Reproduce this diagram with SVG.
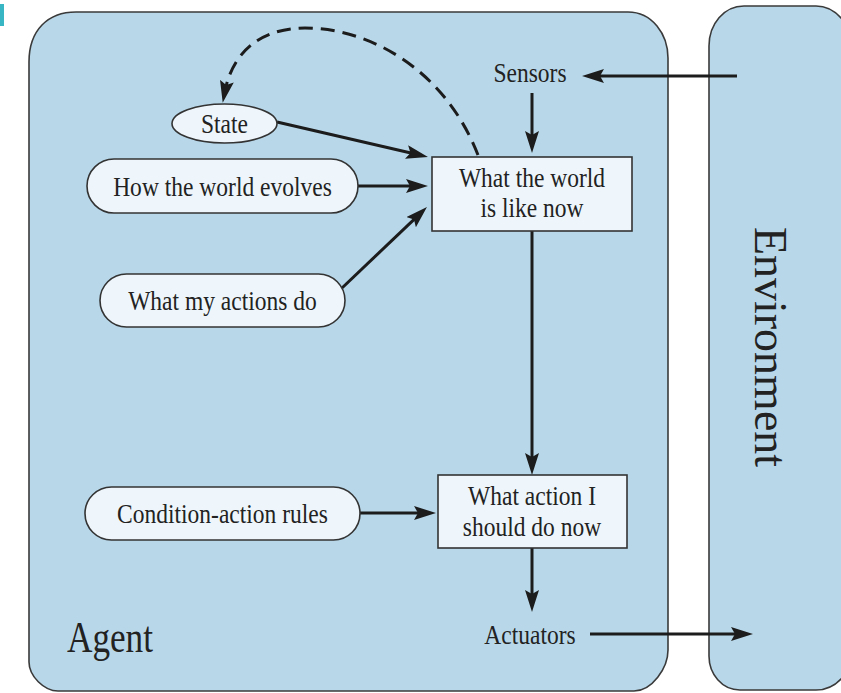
<svg xmlns="http://www.w3.org/2000/svg" width="841" height="693" viewBox="0 0 841 693">
  <style>
    .frame { fill: #b8d8ea; stroke: #3a3a3a; stroke-width: 1.6; }
    .node { fill: #eef6fb; stroke: #333; stroke-width: 1.6; }
    .lbl { font-family: "Liberation Serif", "Times New Roman", serif; font-size: 28px; fill: #222; text-anchor: middle; }
    .big { font-family: "Liberation Serif", "Times New Roman", serif; font-size: 44px; fill: #222; }
    .edge { fill: none; stroke: #1c1c1c; stroke-width: 3; }
    .dash { stroke-dasharray: 14 8; }
  </style>
  <defs>
    <marker id="ah" viewBox="0 0 22 14" refX="10" refY="7" markerWidth="22" markerHeight="14" markerUnits="userSpaceOnUse" orient="auto">
      <path d="M0,0 L22,7 L0,14 L4,7 Z" fill="#1c1c1c"/>
    </marker>
  </defs>

  <rect width="841" height="693" fill="#ffffff"/>
  <rect x="0" y="4" width="4" height="22" fill="#39b6c4"/>

  <!-- outer frames -->
  <g id="agent">
    <path class="frame" d="M76,12 H628 C652,12 668,34 668,58 V650 C668,668 652,691 634,691 H58 C44,691 29,676 29,662 V62 C29,30 48,12 76,12 Z"/>
    <text class="big" transform="translate(67,652) scale(0.8,1)">Agent</text>
  </g>
  <g id="environment">
    <path class="frame" d="M744,6 H816 C836,6 852,26 852,46 V652 C852,672 836,690 816,690 H740 C722,690 709,674 709,656 V46 C709,24 724,6 744,6 Z"/>
    <text class="big" text-anchor="middle" style="font-size:46px" transform="translate(755,347) rotate(90)">Environment</text>
  </g>

  <!-- connectors -->
  <g id="connectors">
    <line class="edge" x1="737" y1="76" x2="594" y2="76" marker-end="url(#ah)"/>
    <line class="edge" x1="532" y1="93" x2="532" y2="141" marker-end="url(#ah)"/>
    <line class="edge" x1="277" y1="122" x2="416.3" y2="154.3" marker-end="url(#ah)"/>
    <line class="edge" x1="358" y1="186" x2="416" y2="186" marker-end="url(#ah)"/>
    <line class="edge" x1="342" y1="288" x2="418.3" y2="215.3" marker-end="url(#ah)"/>
    <line class="edge" x1="532" y1="231" x2="532" y2="463" marker-end="url(#ah)"/>
    <line class="edge" x1="360" y1="513" x2="424" y2="513" marker-end="url(#ah)"/>
    <line class="edge" x1="532" y1="548" x2="532" y2="600" marker-end="url(#ah)"/>
    <line class="edge" x1="590" y1="634" x2="741" y2="634" marker-end="url(#ah)"/>
    <path class="edge dash" d="M478,155 C445,70 370,28 305,28 C258,28 232,55 225,91" marker-end="url(#ah)"/>
  </g>

  <!-- sensor / actuator labels -->
  <g id="sensors">
    <text class="lbl" transform="translate(530,82) scale(0.84,1)">Sensors</text>
  </g>
  <g id="actuators">
    <text class="lbl" transform="translate(530,644) scale(0.84,1)">Actuators</text>
  </g>

  <!-- internal nodes -->
  <g id="state">
    <ellipse class="node" cx="224.5" cy="123.5" rx="52.5" ry="19.5"/>
    <text class="lbl" transform="translate(224.5,133) scale(0.84,1)">State</text>
  </g>
  <g id="world-evolves">
    <rect class="node" x="87" y="159" width="271" height="54" rx="27"/>
    <text class="lbl" transform="translate(222.5,196) scale(0.84,1)">How the world evolves</text>
  </g>
  <g id="actions-do">
    <rect class="node" x="100" y="274" width="245" height="53" rx="26.5"/>
    <text class="lbl" transform="translate(222.5,310) scale(0.84,1)">What my actions do</text>
  </g>
  <g id="rules">
    <rect class="node" x="85" y="487" width="275" height="53" rx="26.5"/>
    <text class="lbl" transform="translate(222.5,523) scale(0.84,1)">Condition-action rules</text>
  </g>
  <g id="world-now">
    <rect class="node" x="432" y="157" width="200" height="74"/>
    <text class="lbl" transform="translate(532,187) scale(0.84,1)">What the world</text>
    <text class="lbl" transform="translate(532,217) scale(0.84,1)">is like now</text>
  </g>
  <g id="action-now">
    <rect class="node" x="438" y="475" width="189" height="73"/>
    <text class="lbl" transform="translate(532,505) scale(0.84,1)">What action I</text>
    <text class="lbl" transform="translate(532,536) scale(0.84,1)">should do now</text>
  </g>
</svg>
